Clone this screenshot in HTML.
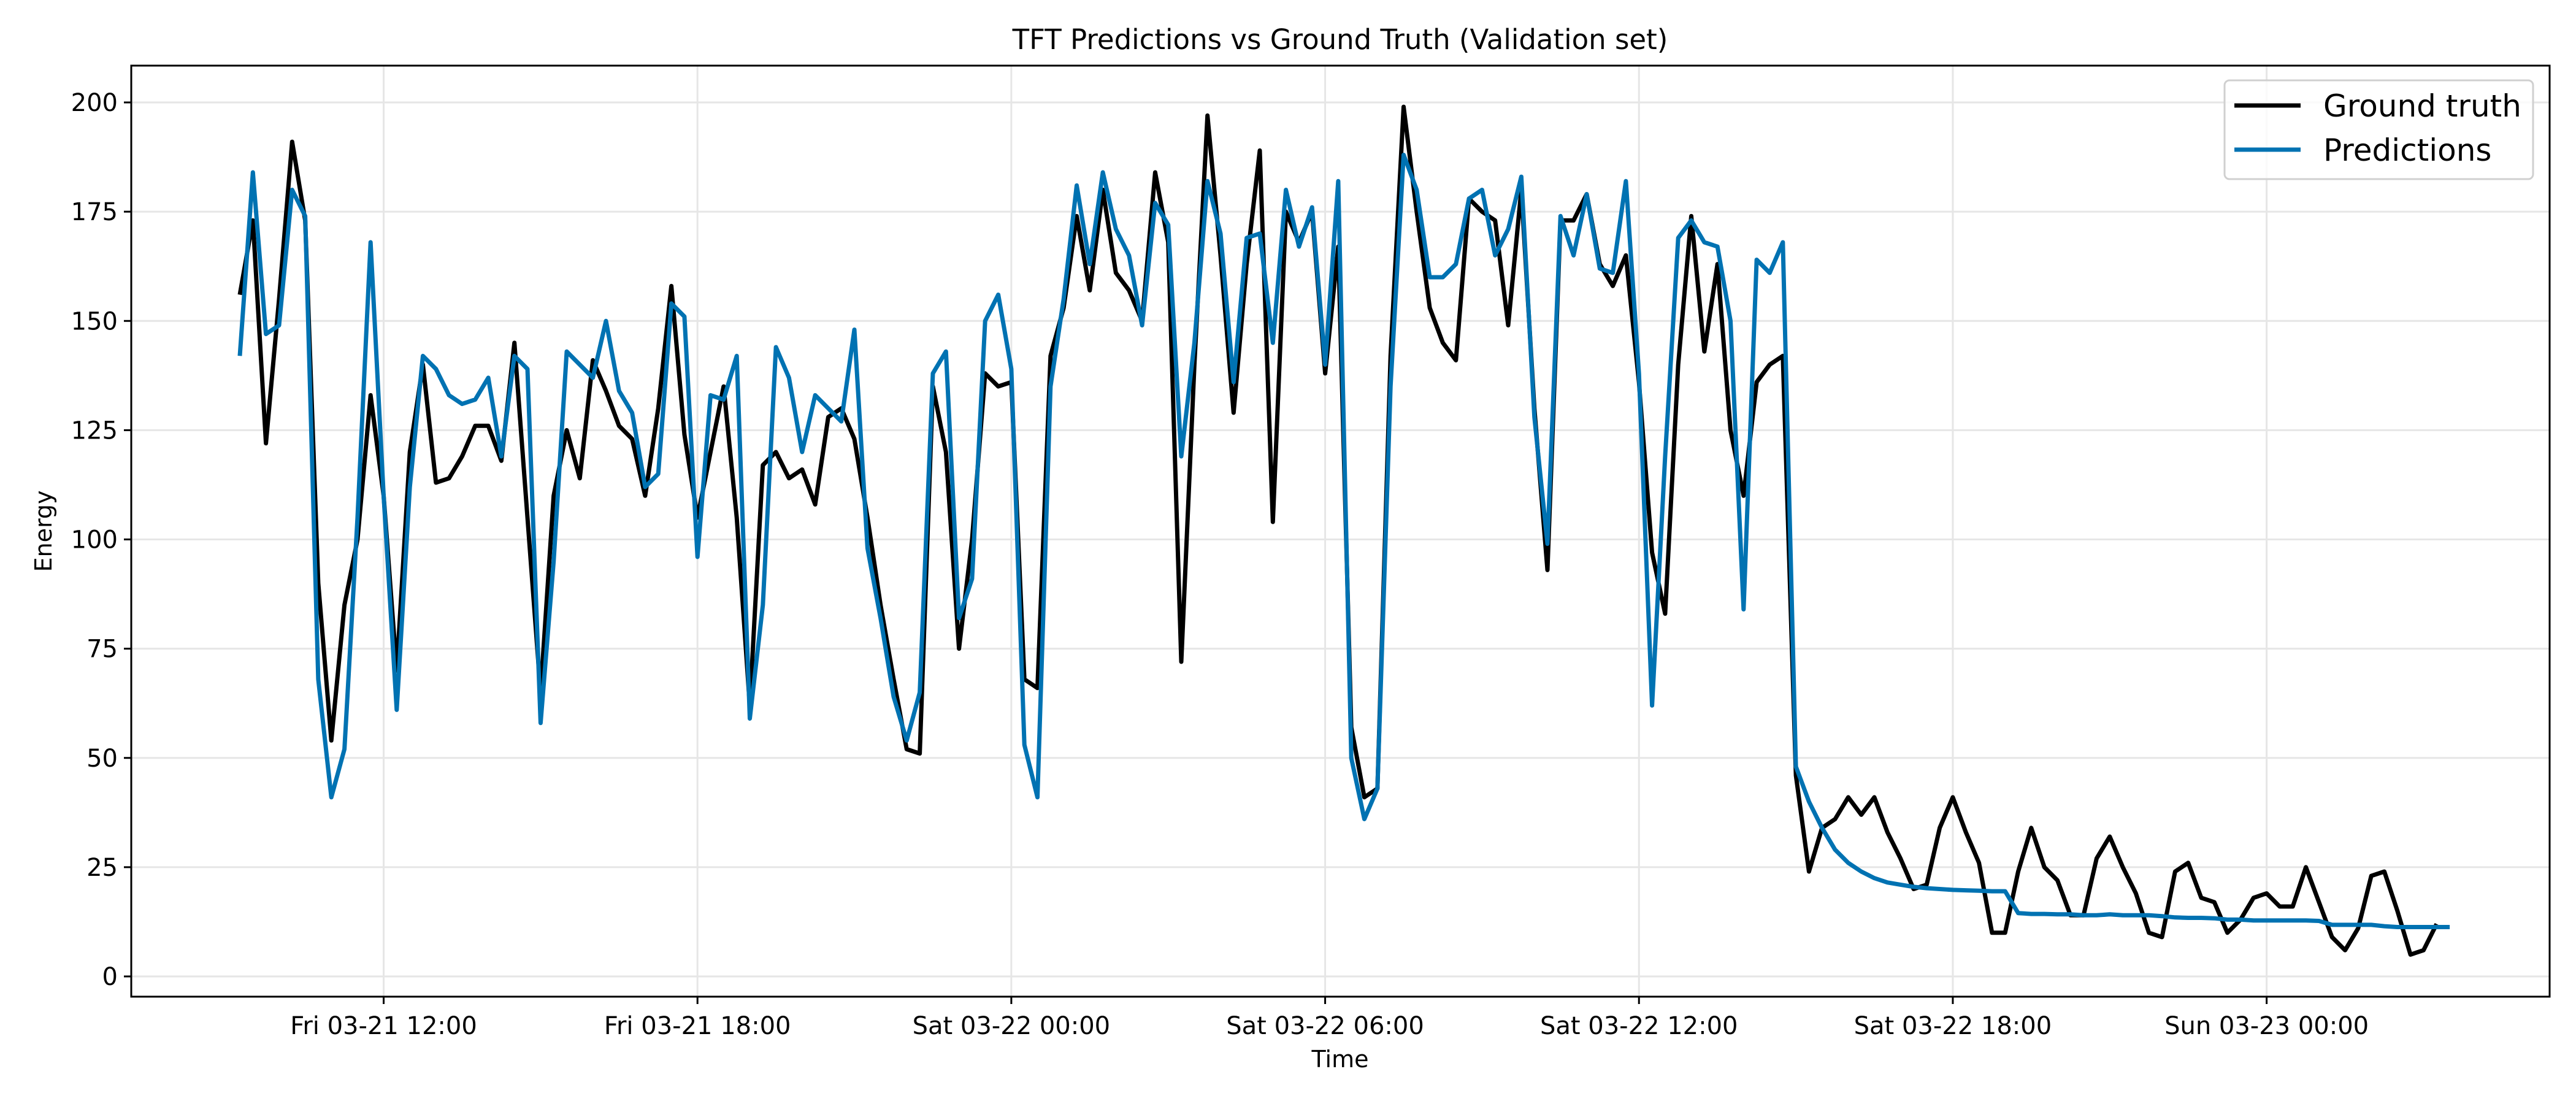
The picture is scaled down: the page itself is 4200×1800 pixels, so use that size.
<!DOCTYPE html>
<html><head><meta charset="utf-8"><style>
html,body{margin:0;padding:0;background:#fff}
svg{display:block;font-family:"DejaVu Sans","Liberation Sans",sans-serif}
</style></head><body>
<svg id="chart" width="4200" height="1800" viewBox="0 0 4200 1800" xmlns="http://www.w3.org/2000/svg">
<rect width="4200" height="1800" fill="#fff"/>
<text x="2185" y="80" font-size="45" text-anchor="middle">TFT Predictions vs Ground Truth (Validation set)</text>
<g id="grid"></g>
<g id="yticks"></g>
<g id="xticks"></g>
<g id="series"></g>
<rect x="214" y="107" width="3943" height="1518" fill="none" stroke="#000" stroke-width="3"/>
<text x="2185" y="1740" font-size="38" text-anchor="middle">Time</text>
<text x="0" y="0" font-size="38" text-anchor="middle" transform="translate(84,866) rotate(-90)">Energy</text>
<g>
<rect x="3627" y="131" width="503" height="161" rx="8" fill="#fff" fill-opacity="0.8" stroke="#d0d0d0" stroke-width="3"/>
<line x1="3643" y1="172" x2="3751" y2="172" stroke="#000" stroke-width="7"/>
<text x="3788" y="190" font-size="50">Ground truth</text>
<line x1="3643" y1="244" x2="3751" y2="244" stroke="#0072b2" stroke-width="7"/>
<text x="3788" y="262" font-size="50">Predictions</text>
</g>
</svg>
<script>
const groundTruth = [156,173,122,155,191,173,90,54,85,100,133,110,70,120,140,113,114,119,126,126,118,145,105,65,110,125,114,141,134,126,123,110,130,158,124,105,120,135,105,62,117,120,114,116,108,128,130,123,105,85,68,52,51,135,120,75,100,138,135,136,68,66,142,153,174,157,180,161,157,150,184,168,72,140,197,165,129,163,189,104,175,168,175,138,167,57,41,43,142,199,175,153,145,141,178,175,173,149,180,130,93,173,173,179,163,158,165,136,97,83,140,174,143,163,125,110,136,140,142,
46,24,34,36,41,37,41,33,27,20,21,34,41,33,26,10,10,24,34,25,22,14,14,27,32,25,19,10,9,24,26,18,17,10,13,18,19,16,16,25,17,9,6,11,23,24,15,5,6,12];
const predictions = [142,184,147,149,180,174,68,41,52,105,168,110,61,112,142,139,133,131,132,137,119,142,139,58,95,143,140,137,150,134,129,112,115,154,151,96,133,132,142,59,85,144,137,120,133,130,127,148,98,82,64,54,65,138,143,82,91,150,156,139,53,41,135,155,181,163,184,171,165,149,177,172,119,145,182,170,136,169,170,145,180,167,176,140,182,50,36,43,135,188,180,160,160,163,178,180,165,171,183,128,99,174,165,179,162,161,182,138,62,119,169,173,168,167,150,84,164,161,168,
48,40,34,29,26,24,22.5,21.5,21,20.5,20.2,20,19.8,19.7,19.6,19.5,19.5,14.5,14.3,14.3,14.2,14.2,14,14,14.2,14,14,14,13.8,13.5,13.4,13.4,13.3,13,13,12.8,12.8,12.8,12.8,12.8,12.7,11.8,11.8,11.8,11.8,11.5,11.3,11.3,11.3,11.3,11.3];
const yTickValues = [0,25,50,75,100,125,150,175,200];
const xTickIndices = [11,35,59,83,107,131,155];
const xTickLabels = ["Fri 03-21 12:00","Fri 03-21 18:00","Sat 03-22 00:00","Sat 03-22 06:00","Sat 03-22 12:00","Sat 03-22 18:00","Sun 03-23 00:00"];

const NS = "http://www.w3.org/2000/svg";
const PL = 214, PR = 4157, PT = 107, PB = 1625;
function xScale(i){ return 391 + 21.32 * i; }
function yScale(v){ return 1592 - v * (1592 - 167) / 200; }
function mk(tag, attrs, parent){
  const e = document.createElementNS(NS, tag);
  for (const k in attrs) e.setAttribute(k, attrs[k]);
  parent.appendChild(e);
  return e;
}
const grid = document.getElementById('grid');
const yt = document.getElementById('yticks');
const xt = document.getElementById('xticks');
const ser = document.getElementById('series');

yTickValues.forEach(v => {
  const y = yScale(v);
  const g = mk('line', {x1:PL, x2:PR, y1:y, y2:y, stroke:'#e6e6e6', 'stroke-width':3}, grid);
  
  
  const t = mk('line', {x1:PL-12, x2:PL, y1:y, y2:y, stroke:'#000', 'stroke-width':3}, yt);
  
  
  const l = mk('text', {x:PL-22, y:y+14, 'font-size':40, 'text-anchor':'end'}, yt);
  l.textContent = v;
  
  
});
xTickIndices.forEach((idx, k) => {
  const x = xScale(idx);
  const g = mk('line', {x1:x, x2:x, y1:PT, y2:PB, stroke:'#e6e6e6', 'stroke-width':3}, grid);
  
  
  const t = mk('line', {x1:x, x2:x, y1:PB, y2:PB+12, stroke:'#000', 'stroke-width':3}, xt);
  
  
  const l = mk('text', {x:x, y:1686, 'font-size':40, 'text-anchor':'middle'}, xt);
  l.textContent = xTickLabels[k];
  
  
});
function pts(arr){ return arr.map((v,i) => xScale(i).toFixed(1) + ',' + yScale(v).toFixed(1)).join(' '); }
const gl = mk('polyline', {points:pts(groundTruth), fill:'none', stroke:'#000', 'stroke-width':7, 'stroke-linejoin':'round'}, ser);


const pl = mk('polyline', {points:pts(predictions), fill:'none', stroke:'#0072b2', 'stroke-width':7, 'stroke-linejoin':'round'}, ser);


</script>
</body></html>
